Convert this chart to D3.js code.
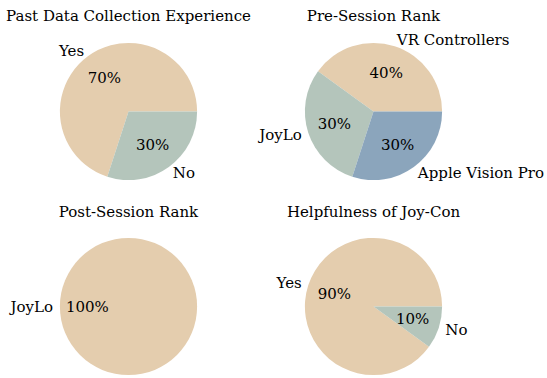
<!DOCTYPE html>
<html><head><meta charset="utf-8">
<script src="https://cdn.jsdelivr.net/npm/d3@7"></script>
<style>body{margin:0;background:#fff}svg{display:block}</style>
</head><body>
<script>
const titles = ["Past Data Collection Experience","Pre-Session Rank","Post-Session Rank","Helpfulness of Joy-Con"];
const labels1 = ["Yes","No"];
const values1 = [70,30];
const labels2 = ["VR Controllers","JoyLo","Apple Vision Pro"];
const values2 = [40,30,30];
const labels3 = ["JoyLo"];
const values3 = [100];
const labels4 = ["Yes","No"];
const values4 = [90,10];
const colors = ["#E4CDAE","#B4C5BB","#8BA5BC"];

const W=547,H=378;
const svg=d3.select("body").append("svg").attr("width",W).attr("height",H);
const font="DejaVu Serif";
const fs=15;
const panels=[
 {t:titles[0],l:labels1,v:values1,cx:128.5,cy:111.5,ty:21},
 {t:titles[1],l:labels2,v:values2,cx:373.5,cy:111.5,ty:21},
 {t:titles[2],l:labels3,v:values3,cx:128.5,cy:306.5,ty:216.5},
 {t:titles[3],l:labels4,v:values4,cx:373.5,cy:306.5,ty:216.5}
];
const r=68.6;
panels.forEach(p=>{
  const g=svg.append("g").attr("transform",`translate(${p.cx},${p.cy})`);
  const total=d3.sum(p.v);
  // matplotlib style: start at 3 o'clock, counterclockwise
  const pie=d3.pie().sort(null).value(d=>d).startAngle(Math.PI/2).endAngle(Math.PI/2-2*Math.PI);
  const arcs=pie(p.v);
  const arc=d3.arc().innerRadius(0).outerRadius(r);
  g.selectAll("path").data(arcs).join("path").attr("d",arc).attr("fill",(d,i)=>colors[i]);
  arcs.forEach((a,i)=>{
    const mid=(a.startAngle+a.endAngle)/2;
    const x=Math.sin(mid), y=-Math.cos(mid);
    const lx=x*r*1.1, ly=y*r*1.1;
    g.append("text").attr("x",lx).attr("y",ly).attr("dy","0.35em")
      .attr("text-anchor",lx>0.001?"start":"end")
      .attr("font-family",font).attr("font-size",fs).attr("fill","#000").text(p.l[i]);
    g.append("text").attr("x",x*r*0.6).attr("y",y*r*0.6).attr("dy","0.35em")
      .attr("text-anchor","middle")
      .attr("font-family",font).attr("font-size",fs).attr("fill","#000")
      .text(Math.round(p.v[i]/total*100)+"%");
  });
  svg.append("text").attr("x",p.cx).attr("y",p.ty).attr("text-anchor","middle")
    .attr("font-family",font).attr("font-size",fs).attr("fill","#000").text(p.t);
});
</script>
</body></html>
